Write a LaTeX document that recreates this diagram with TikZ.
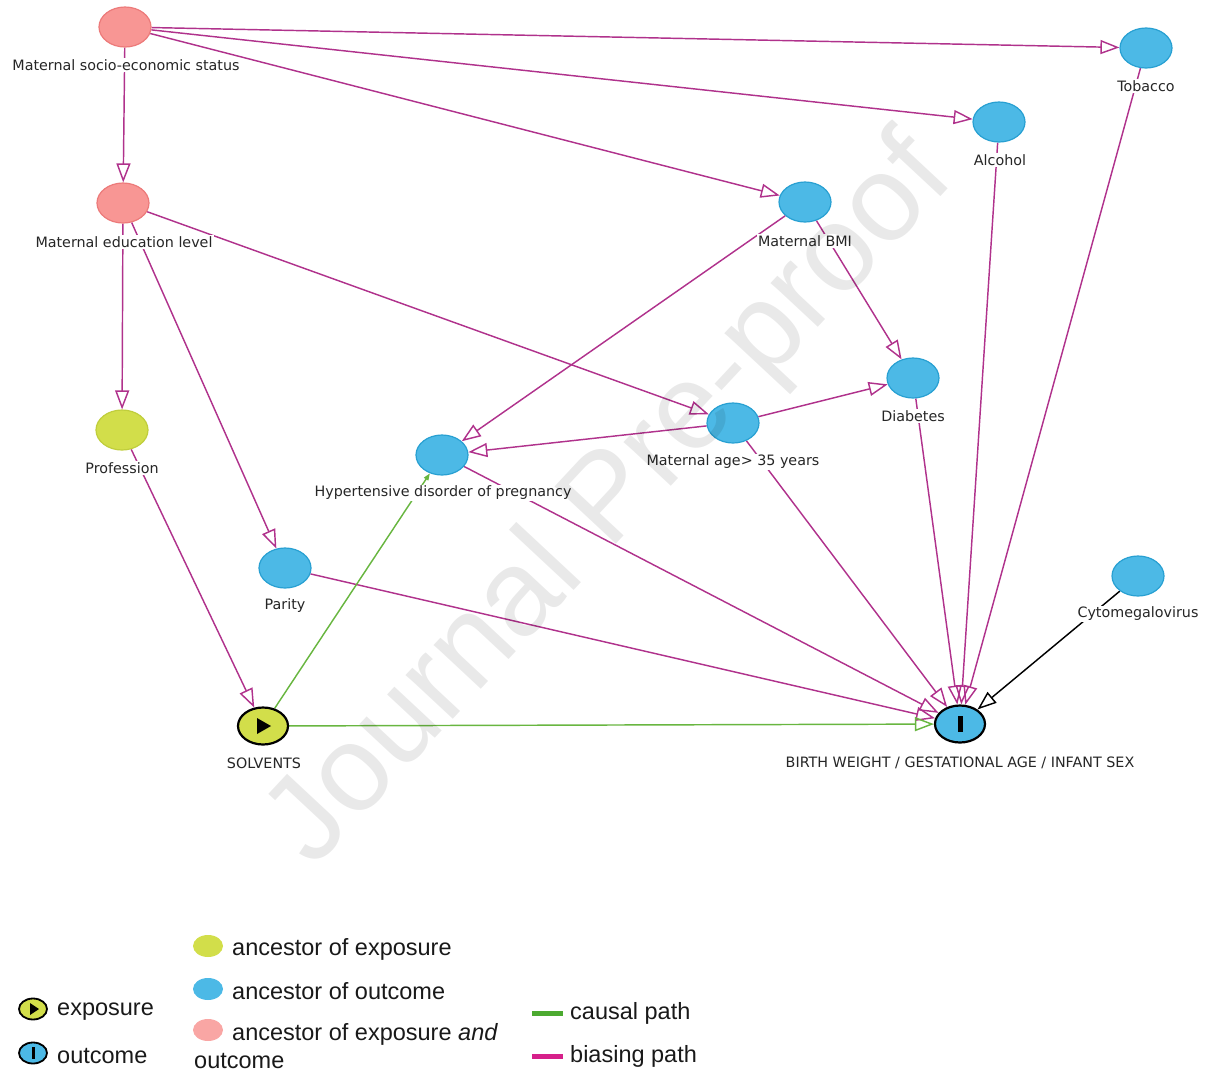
\documentclass[tikz,border=0pt]{standalone}
\usepackage{fontspec}
\setmainfont{DejaVu Sans}
\newfontfamily\legfont{Liberation Sans}
\usetikzlibrary{arrows.meta,shapes.geometric}
\definecolor{pinkfill}{RGB}{248,150,148}
\definecolor{pinkdraw}{RGB}{236,122,122}
\definecolor{bluefill}{RGB}{76,185,230}
\definecolor{bluedraw}{RGB}{40,160,210}
\definecolor{yelfill}{RGB}{210,222,74}
\definecolor{yeldraw}{RGB}{192,206,60}
\definecolor{bias}{RGB}{176,50,140}
\definecolor{causal}{RGB}{104,182,64}
\definecolor{biasleg}{RGB}{214,32,138}
\definecolor{causalleg}{RGB}{76,170,48}
\pgfdeclarelayer{edges}
\pgfsetlayers{edges,main}
\tikzset{
  var/.style={ellipse, minimum width=52pt, minimum height=40pt, inner sep=0pt, line width=1.2pt},
  pinkv/.style={var, fill=pinkfill, draw=pinkdraw},
  bluev/.style={var, fill=bluefill, draw=bluedraw},
  yelv/.style={var, fill=yelfill, draw=yeldraw},
  expv/.style={var, minimum width=50pt, minimum height=37pt, fill=yelfill, draw=black, line width=2.2pt},
  outv/.style={var, minimum width=50pt, minimum height=37pt, fill=bluefill, draw=black, line width=2.2pt},
  lbl/.style={fill=white, inner sep=1.5pt, text=black!85, font=\fontsize{14.3}{16}\selectfont},
  be/.style={draw=bias, line width=1.45pt, -{Triangle[open,length=19pt,width=14pt]}},
  ce/.style={draw=causal, line width=1.45pt, -{Triangle[open,length=19pt,width=14pt]}},
  cesmall/.style={draw=causal, line width=1.45pt, -{Triangle[length=7pt,width=5pt]}},
  ke/.style={draw=black, line width=1.45pt, -{Triangle[open,length=19pt,width=14pt]}},
  leg/.style={anchor=west, inner sep=0pt, text=black!90, font=\legfont\fontsize{23.5}{26}\selectfont},
  legdot/.style={ellipse, minimum width=30pt, minimum height=22pt, inner sep=0pt},
}
\begin{document}
\begin{tikzpicture}[x=1pt,y=-1pt]
\useasboundingbox (0,0) rectangle (1208,1072);
% nodes
\node[pinkv] (mses) at (125,27) {};
\node[pinkv] (mel) at (123,203) {};
\node[yelv] (prof) at (122,430) {};
\node[bluev] (par) at (285,568) {};
\node[expv] (sol) at (263,726) {};
\node[bluev] (hdp) at (442,455) {};
\node[bluev] (age) at (733,423) {};
\node[bluev] (bmi) at (805,202) {};
\node[bluev] (dia) at (913,378) {};
\node[bluev] (alc) at (999,122) {};
\node[bluev] (tob) at (1146,48) {};
\node[bluev] (cmv) at (1138,576) {};
\node[outv] (out) at (960,724) {};
\fill[black] (257,718) -- (257,734) -- (271,726) -- cycle;
\fill[black] (957.5,716) rectangle (962.5,732);
% labels
\node[lbl] (lmses) at (126,65) {Maternal socio-economic status};
\node[lbl] (lmel) at (124,242) {Maternal education level};
\node[lbl] (lprof) at (122,468) {Profession};
\node[lbl] (lpar) at (285,606) {Parity};
\node[lbl] (lsol) at (264,763) {SOLVENTS};
\node[lbl] (lhdp) at (443,493) {Hypertensive disorder of pregnancy};
\node[lbl] (lage) at (733,462) {Maternal age> 35 years};
\node[lbl] (lbmi) at (805,241) {Maternal BMI};
\node[lbl] (ldia) at (913,416) {Diabetes};
\node[lbl] (lalc) at (1000,160) {Alcohol};
\node[lbl] (ltob) at (1146,86) {Tobacco};
\node[lbl] (lcmv) at (1138,614) {Cytomegalovirus};
\node[lbl] (lout) at (960,763) {BIRTH WEIGHT / GESTATIONAL AGE / INFANT SEX};
% edges
\begin{pgfonlayer}{edges}
\draw[be] (mses) -- (tob);
\draw[be] (mses) -- (alc);
\draw[be] (mses) -- (bmi);
\draw[be] (mses) -- (mel);
\draw[be] (mel) -- (prof);
\draw[be] (mel) -- (par);
\draw[be] (mel) -- (age);
\draw[be] (prof) -- (sol);
\draw[be] (bmi) -- (hdp);
\draw[be] (bmi) -- (dia);
\draw[be] (age) -- (hdp);
\draw[be] (age) -- (dia);
\draw[be] (hdp) -- (out);
\draw[be] (age) -- (out);
\draw[be] (par) -- (out);
\draw[be] (dia) -- (out);
\draw[be] (alc) -- (out);
\draw[be] (tob) -- (out);
\draw[ke] (cmv) -- (out);
\draw[ce] (sol) -- (out);
\draw[cesmall] (sol) -- (hdp);
\end{pgfonlayer}
% legend
\node[legdot, fill=yelfill, draw=black, line width=1.8pt, minimum width=28pt, minimum height=21pt] (lgexp) at (33,1009) {};
\fill[black] (30,1003) -- (30,1015) -- (39,1009) -- cycle;
\node[leg] (tgexp) at (57,1012) {exposure};
\node[legdot, fill=bluefill, draw=black, line width=1.8pt, minimum width=28pt, minimum height=21pt] (lgout) at (33,1053) {};
\fill[black] (31.5,1047) rectangle (34.5,1059);
\node[leg] (tgout) at (57,1056) {outcome};
\node[legdot, fill=yelfill] (lgae) at (208,946) {};
\node[leg] (tgae) at (232,949) {ancestor of exposure};
\node[legdot, fill=bluefill] (lgao) at (208,989) {};
\node[leg] (tgao) at (232,991) {ancestor of outcome};
\node[legdot, fill=pinkfill!85!white] (lgab) at (208,1030) {};
\node[leg] (tgab) at (232,1034) {ancestor of exposure \textit{and}};
\node[leg] (tgab2) at (194,1061) {outcome};
\coordinate (cp1) at (532,1013);
\coordinate (cp2) at (563,1013);
\draw[causalleg, line width=5pt] (cp1) -- (cp2);
\node[leg] (tgcp) at (570,1013) {causal path};
\coordinate (bp1) at (532,1056);
\coordinate (bp2) at (563,1056);
\draw[biasleg, line width=5pt] (bp1) -- (bp2);
\node[leg] (tgbp) at (570,1056) {biasing path};
% watermark
\node[rotate=47, opacity=0.085, text=black, font=\legfont\fontsize{122}{124}\selectfont] (wm) at (612,503) {Journal Pre-proof};
\end{tikzpicture}
\end{document}
